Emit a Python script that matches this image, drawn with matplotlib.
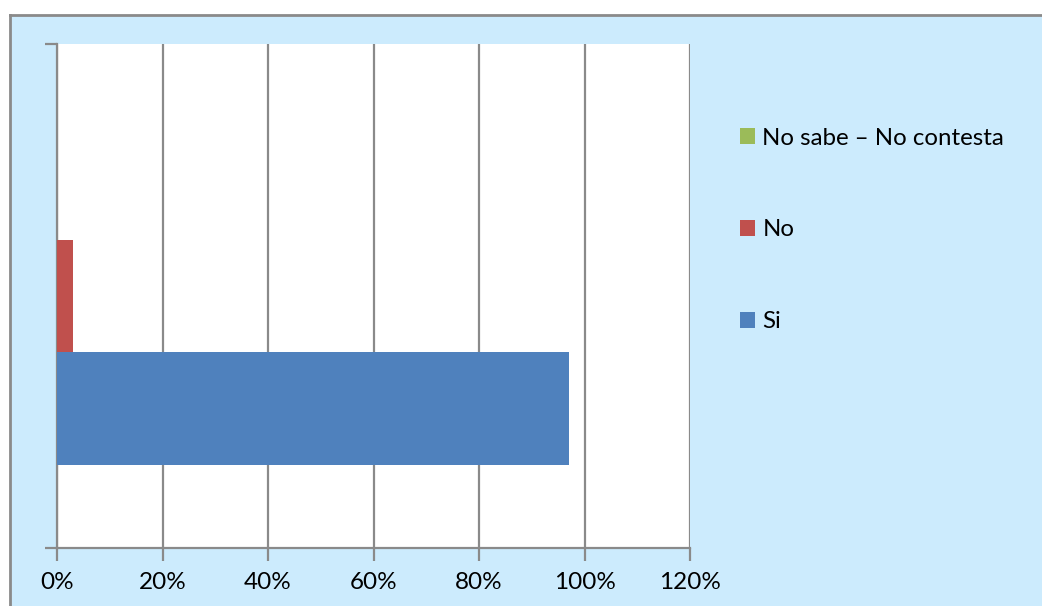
import matplotlib.pyplot as plt
from matplotlib.patches import Rectangle, Patch
from matplotlib.ticker import FuncFormatter

# survey answers, percent of respondents
answers = ["Si", "No", "No sabe \u2013 No contesta"]
percent = [97, 3, 0]
colors = ["#4F81BD", "#C0504D", "#9BBB59"]
xticks = [0, 20, 40, 60, 80, 100, 120]

plt.rcParams['font.family'] = ['Lato', 'DejaVu Sans']

W, H = 1042, 606
fig = plt.figure(figsize=(W / 100, H / 100), dpi=100)
fig.patch.set_facecolor("white")

# light blue chart panel with a grey frame on top and left
panel = Rectangle((10 / W, 0), 1.0, 1 - 15 / H, transform=fig.transFigure,
                  facecolor="#CCEBFD", edgecolor="none", zorder=-2)
fig.patches.append(panel)
fig.add_artist(plt.Line2D([10 / W, 10 / W], [0, 1 - 15 / H], color="#8A8A8A",
                          lw=2, transform=fig.transFigure, zorder=-1))
fig.add_artist(plt.Line2D([10 / W, 1], [1 - 15 / H, 1 - 15 / H], color="#8A8A8A",
                          lw=2, transform=fig.transFigure, zorder=-1))

ax = fig.add_axes([57 / W, 1 - 548 / H, 633 / W, 504 / H])
ax.set_zorder(1)
ax.set_facecolor("white")

bar_h = 0.223
offsets = [-bar_h, 0, bar_h]
for off, val, col, lab in zip(offsets, percent, colors, answers):
    ax.barh(off, val, height=bar_h, color=col, label=lab, zorder=3)

ax.set_xlim(0, 120)
ax.set_ylim(-0.5, 0.5)
ax.set_xticks(xticks)
ax.xaxis.set_major_formatter(FuncFormatter(lambda v, p: f"{v:.0f}%"))
ax.set_yticks([-0.5, 0.5])
ax.set_yticklabels([])

ax.grid(axis="x", color="#8A8A8A", lw=1.6, zorder=1)
for s in ["top", "right"]:
    ax.spines[s].set_visible(False)
for s in ["left", "bottom"]:
    ax.spines[s].set_color("#8A8A8A")
    ax.spines[s].set_linewidth(1.6)
ax.tick_params(axis="both", direction="out", length=9, width=1.6, color="#8A8A8A")
ax.tick_params(axis="x", labelsize=17.5, pad=8.5, labelcolor="black")

handles = [Patch(facecolor=c, edgecolor="none") for c in colors[::-1]]
leg = fig.legend(handles, answers[::-1], loc="center left",
                 bbox_to_anchor=(718 / W, 1 - 230 / H), frameon=False,
                 fontsize=17.3, handlelength=0.65, handleheight=0.65,
                 handletextpad=0.3, labelspacing=2.95)
leg.set_zorder(2)

fig.savefig("out.png", dpi=100)
